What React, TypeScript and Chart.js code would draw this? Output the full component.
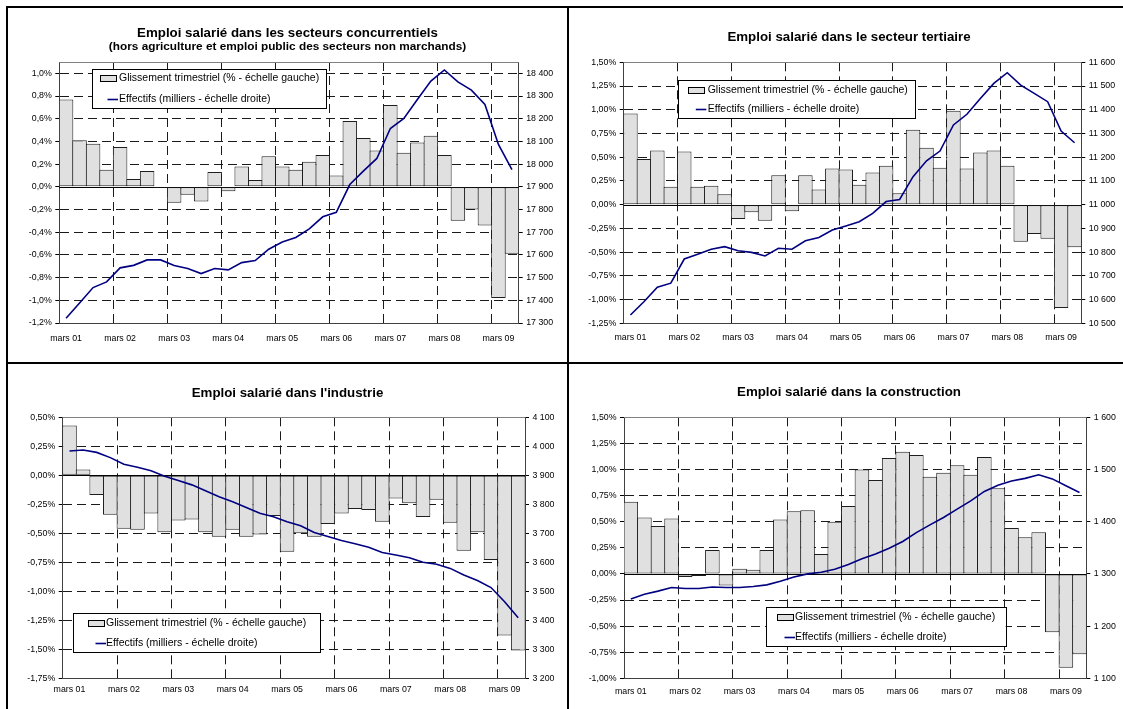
import React, { useEffect, useRef } from 'react';
import { Chart, registerables } from 'chart.js';

Chart.register(...registerables);

const FONT = "'Liberation Sans', Arial, Helvetica, sans-serif";
Chart.defaults.font.family = FONT;
Chart.defaults.color = '#000';

// ---------- DATA ----------
const categories = [
  'mars 01', 'juin 01', 'sept. 01', 'déc. 01',
  'mars 02', 'juin 02', 'sept. 02', 'déc. 02',
  'mars 03', 'juin 03', 'sept. 03', 'déc. 03',
  'mars 04', 'juin 04', 'sept. 04', 'déc. 04',
  'mars 05', 'juin 05', 'sept. 05', 'déc. 05',
  'mars 06', 'juin 06', 'sept. 06', 'déc. 06',
  'mars 07', 'juin 07', 'sept. 07', 'déc. 07',
  'mars 08', 'juin 08', 'sept. 08', 'déc. 08',
  'mars 09', 'juin 09',
];

const barLabel = 'Glissement trimestriel (% - échelle gauche)';
const lineLabel = 'Effectifs (milliers - échelle droite)';

// Secteurs concurrentiels
const concBars = [0.77, 0.41, 0.38, 0.15, 0.35, 0.07, 0.14, -0.01, -0.14, -0.07, -0.13, 0.13, -0.04, 0.18, 0.06, 0.27, 0.18, 0.15, 0.22, 0.28, 0.10, 0.58, 0.43, 0.32, 0.72, 0.30, 0.39, 0.45, 0.28, -0.30, -0.20, -0.34, -0.98, -0.59];
const concLine = [17321, 17388, 17456, 17481, 17543, 17554, 17578, 17578, 17553, 17540, 17518, 17540, 17534, 17566, 17575, 17625, 17657, 17677, 17715, 17768, 17788, 17910, 17969, 18025, 18157, 18201, 18285, 18366, 18415, 18362, 18326, 18263, 18087, 17976];
const concLeftTicks = [-1.2, -1.0, -0.8, -0.6, -0.4, -0.2, 0, 0.2, 0.4, 0.6, 0.8, 1.0];
const concRightTicks = [17300, 17400, 17500, 17600, 17700, 17800, 17900, 18000, 18100, 18200, 18300, 18400];

// Secteur tertiaire
const tertBars = [0.96, 0.48, 0.57, 0.19, 0.56, 0.19, 0.20, 0.11, -0.15, -0.08, -0.17, 0.31, -0.07, 0.31, 0.16, 0.38, 0.37, 0.21, 0.34, 0.41, 0.12, 0.79, 0.60, 0.39, 0.99, 0.38, 0.55, 0.57, 0.41, -0.39, -0.31, -0.36, -1.09, -0.45];
const tertLine = [10535, 10591, 10652, 10669, 10771, 10791, 10812, 10823, 10806, 10799, 10784, 10816, 10812, 10848, 10862, 10893, 10910, 10928, 10963, 11013, 11022, 11118, 11185, 11226, 11336, 11381, 11447, 11511, 11556, 11504, 11469, 11434, 11310, 11261];
const tertLeftTicks = [-1.25, -1.0, -0.75, -0.5, -0.25, 0, 0.25, 0.5, 0.75, 1.0, 1.25, 1.5];
const tertRightTicks = [10500, 10600, 10700, 10800, 10900, 11000, 11100, 11200, 11300, 11400, 11500, 11600];

// Industrie
const indBars = [0.43, 0.05, -0.17, -0.34, -0.46, -0.47, -0.33, -0.49, -0.39, -0.38, -0.49, -0.53, -0.47, -0.53, -0.51, -0.35, -0.66, -0.50, -0.53, -0.42, -0.33, -0.29, -0.30, -0.40, -0.20, -0.24, -0.36, -0.21, -0.41, -0.65, -0.49, -0.73, -1.38, -1.51];
const indLine = [3984, 3987, 3979, 3961, 3938, 3928, 3916, 3897, 3882, 3867, 3847, 3826, 3809, 3789, 3769, 3757, 3740, 3726, 3703, 3689, 3675, 3664, 3652, 3634, 3625, 3616, 3600, 3593, 3579, 3556, 3537, 3513, 3464, 3409];
const indLeftTicks = [-1.75, -1.5, -1.25, -1.0, -0.75, -0.5, -0.25, 0, 0.25, 0.5];
const indRightTicks = [3200, 3300, 3400, 3500, 3600, 3700, 3800, 3900, 4000, 4100];

// Construction
const consBars = [0.69, 0.54, 0.46, 0.53, -0.03, -0.02, 0.23, -0.11, 0.05, 0.04, 0.23, 0.52, 0.60, 0.61, 0.19, 0.50, 0.65, 1.00, 0.90, 1.11, 1.17, 1.14, 0.93, 0.97, 1.04, 0.95, 1.12, 0.82, 0.44, 0.35, 0.40, -0.56, -0.90, -0.77];
const consLine = [1252, 1261, 1267, 1274, 1272, 1272, 1275, 1274, 1274, 1276, 1279, 1286, 1294, 1300, 1303, 1309, 1318, 1329, 1338, 1349, 1362, 1379, 1394, 1408, 1424, 1440, 1458, 1470, 1478, 1483, 1490, 1482, 1469, 1456];
const consLeftTicks = [-1.0, -0.75, -0.5, -0.25, 0, 0.25, 0.5, 0.75, 1.0, 1.25, 1.5];
const consRightTicks = [1100, 1200, 1300, 1400, 1500, 1600];

// ---------- STYLE ----------
const BAR_FILL = '#e0e0e0';
const BAR_EDGE = '#1e1e1e';
const LINE_COLOR = '#000080';
const GRID = '#1a1a1a';
const AXIS = '#404040';
const TICK_SIZE = 8.8;

const fmtPct = (d: number) => (v: number) => v.toFixed(d).replace('.', ',') + '%';
const fmtThousands = (v: number) => String(Math.round(v)).replace(/\B(?=(\d{3})+(?!\d))/g, ' ');

const framePlugin = {
  id: 'frame',
  beforeDatasetsDraw(chart: any) {
    const { ctx, chartArea } = chart;
    const { left, right, top } = chartArea;
    ctx.save();
    ctx.strokeStyle = '#808080';
    ctx.lineWidth = 1;
    ctx.beginPath();
    const yt = Math.round(top) + 0.5;
    ctx.moveTo(left, yt);
    ctx.lineTo(right, yt);
    ctx.stroke();
    const y0 = Math.round(chart.scales.y.getPixelForValue(0)) + 0.5;
    ctx.strokeStyle = '#000';
    ctx.beginPath();
    ctx.moveTo(left, y0);
    ctx.lineTo(right, y0);
    ctx.stroke();
    ctx.restore();
  },
};

const boxLegendPlugin = {
  id: 'boxLegend',
  afterDraw(chart: any, _args: any, opts: any) {
    if (!opts || !opts.box) return;
    const { ctx } = chart;
    const { x, y, w, h, symX, textX, rows } = opts.box;
    const ds = chart.data.datasets;
    ctx.save();
    ctx.fillStyle = '#fff';
    ctx.fillRect(x, y, w, h);
    ctx.strokeStyle = '#000';
    ctx.lineWidth = 1;
    ctx.strokeRect(Math.round(x) + 0.5, Math.round(y) + 0.5, Math.round(w), Math.round(h));
    const barDs = ds.find((d: any) => d.type !== 'line');
    const lineDs = ds.find((d: any) => d.type === 'line');
    // bar key
    ctx.fillStyle = BAR_FILL;
    ctx.fillRect(Math.round(symX) + 0.5, Math.round(rows[0] - 3) + 0.5, 16, 6);
    ctx.strokeStyle = '#000';
    ctx.strokeRect(Math.round(symX) + 0.5, Math.round(rows[0] - 3) + 0.5, 16, 6);
    // line key
    ctx.strokeStyle = LINE_COLOR;
    ctx.lineWidth = 1.6;
    ctx.beginPath();
    ctx.moveTo(symX + 7.5, Math.round(rows[1]) + 0.5);
    ctx.lineTo(symX + 18, Math.round(rows[1]) + 0.5);
    ctx.stroke();
    ctx.fillStyle = '#000';
    ctx.font = `10.5px ${FONT}`;
    ctx.textBaseline = 'middle';
    ctx.textAlign = 'left';
    ctx.fillText(barDs.label, textX, rows[0]);
    ctx.fillText(lineDs.label, textX, rows[1]);
    ctx.restore();
  },
};

type PanelCfg = {
  title: string;
  subtitle?: string;
  bars: number[];
  line: number[];
  leftMin: number;
  leftMax: number;
  leftTicks: number[];
  leftDecimals: number;
  rightMin: number;
  rightMax: number;
  rightTicks: number[];
  canvas: { x: number; y: number; w: number; h: number };
  yLeftW: number;
  yRightW: number;
  xH: number;
  xPad: number;
  titlePad: { top: number; bottom: number };
  subPad?: { top: number; bottom: number };
  legend: { x: number; y: number; w: number; h: number; symX: number; textX: number; rows: number[] };
};

const panels: PanelCfg[] = [
  {
    title: 'Emploi salarié dans les secteurs concurrentiels',
    subtitle: '(hors agriculture et emploi public des secteurs non marchands)',
    bars: concBars, line: concLine,
    leftMin: -1.2, leftMax: 1.1, leftTicks: concLeftTicks, leftDecimals: 1,
    rightMin: 17300, rightMax: 18450, rightTicks: concRightTicks,
    canvas: { x: 8, y: 8, w: 559, h: 354 },
    yLeftW: 51.3, yRightW: 48.3, xH: 39, xPad: 10,
    titlePad: { top: 18.65, bottom: 0 }, subPad: { top: 0.85, bottom: 9.4 },
    legend: { x: 84.3, y: 61.3, w: 234.4, h: 39, symX: 92, textX: 111, rows: [69.7, 91] },
  },
  {
    title: 'Emploi salarié dans le secteur tertiaire',
    bars: tertBars, line: tertLine,
    leftMin: -1.25, leftMax: 1.5, leftTicks: tertLeftTicks, leftDecimals: 2,
    rightMin: 10500, rightMax: 11600, rightTicks: tertRightTicks,
    canvas: { x: 569, y: 8, w: 560, h: 354 },
    yLeftW: 54.7, yRightW: 47.7, xH: 38.7, xPad: 9.1,
    titlePad: { top: 22.65, bottom: 18.35 },
    legend: { x: 109.3, y: 72, w: 237, h: 38.3, symX: 119.3, textX: 138.7, rows: [82, 101] },
  },
  {
    title: "Emploi salarié dans l'industrie",
    bars: indBars, line: indLine,
    leftMin: -1.75, leftMax: 0.5, leftTicks: indLeftTicks, leftDecimals: 2,
    rightMin: 3200, rightMax: 4100, rightTicks: indRightTicks,
    canvas: { x: 8, y: 364, w: 559, h: 345 },
    yLeftW: 54.7, yRightW: 42, xH: 30.7, xPad: 6.4,
    titlePad: { top: 22.65, bottom: 17.35 },
    legend: { x: 64.7, y: 249.3, w: 247.3, h: 39.4, symX: 80, textX: 98, rows: [259.3, 279.3] },
  },
  {
    title: 'Emploi salarié dans la construction',
    bars: consBars, line: consLine,
    leftMin: -1.0, leftMax: 1.5, leftTicks: consLeftTicks, leftDecimals: 2,
    rightMin: 1100, rightMax: 1600, rightTicks: consRightTicks,
    canvas: { x: 569, y: 364, w: 560, h: 345 },
    yLeftW: 55, yRightW: 42.7, xH: 30.7, xPad: 8.1,
    titlePad: { top: 21.65, bottom: 18.35 },
    legend: { x: 197, y: 243.3, w: 239.7, h: 39.4, symX: 208, textX: 226, rows: [252.7, 273] },
  },
];

function buildConfig(p: PanelCfg): any {
  const tickFont = { family: FONT, size: TICK_SIZE };
  const plugins: any = {
    legend: { display: false },
    tooltip: { enabled: false },
    title: {
      display: true,
      text: p.title,
      color: '#000',
      font: { family: FONT, size: 13.3, weight: 'bold', lineHeight: 1 },
      padding: p.titlePad,
    },
    boxLegend: { box: p.legend },
  };
  if (p.subtitle) {
    plugins.subtitle = {
      display: true,
      text: p.subtitle,
      color: '#000',
      font: { family: FONT, size: 11.8, weight: 'bold', lineHeight: 1 },
      padding: p.subPad,
    };
  }
  return {
    type: 'bar',
    data: {
      labels: categories,
      datasets: [
        {
          type: 'line',
          label: lineLabel,
          data: p.line,
          yAxisID: 'y1',
          borderColor: LINE_COLOR,
          backgroundColor: LINE_COLOR,
          borderWidth: 1.6,
          pointRadius: 0,
          tension: 0,
          order: 0,
        },
        {
          type: 'bar',
          label: barLabel,
          data: p.bars,
          yAxisID: 'y',
          backgroundColor: BAR_FILL,
          borderColor: BAR_EDGE,
          borderWidth: 1,
          borderSkipped: false,
          barPercentage: 1.074,
          categoryPercentage: 1,
          order: 1,
        },
      ],
    },
    options: {
      responsive: false,
      animation: false,
      events: [],
      layout: { padding: 0 },
      plugins,
      scales: {
        x: {
          type: 'category',
          offset: true,
          grid: {
            offset: true,
            drawTicks: false,
            lineWidth: 1,
            color: (c: any) =>
              c.type === 'tick' && c.index > 0 && c.index % 4 === 0 ? GRID : 'rgba(0,0,0,0)',
          },
          border: { display: true, color: AXIS, width: 1, dash: [9, 5] },
          ticks: {
            autoSkip: false,
            maxRotation: 0,
            minRotation: 0,
            padding: p.xPad,
            font: tickFont,
            color: '#000',
            callback: (_v: any, i: number) => (i % 4 === 0 ? categories[i] : ''),
          },
          afterFit: (s: any) => {
            s.height = p.xH;
          },
        },
        y: {
          type: 'linear',
          position: 'left',
          min: p.leftMin,
          max: p.leftMax,
          afterBuildTicks: (s: any) => {
            s.ticks = p.leftTicks.map((v) => ({ value: v }));
          },
          grid: {
            drawTicks: true,
            tickLength: 4,
            tickColor: '#000',
            tickWidth: 1,
            lineWidth: 1,
            color: (c: any) => (c.tick && Math.abs(c.tick.value) < 1e-9 ? 'rgba(0,0,0,0)' : GRID),
          },
          border: { display: true, color: AXIS, width: 1, dash: [9, 5] },
          ticks: {
            padding: 3.5,
            font: tickFont,
            color: '#000',
            callback: (v: any) => fmtPct(p.leftDecimals)(Number(v)),
          },
          afterFit: (s: any) => {
            s.width = p.yLeftW;
          },
        },
        y1: {
          type: 'linear',
          position: 'right',
          min: p.rightMin,
          max: p.rightMax,
          afterBuildTicks: (s: any) => {
            s.ticks = p.rightTicks.map((v) => ({ value: v }));
          },
          grid: {
            drawOnChartArea: false,
            drawTicks: true,
            tickLength: 4,
            tickColor: '#000',
            tickWidth: 1,
          },
          border: { display: true, color: AXIS, width: 1 },
          ticks: {
            padding: 3.5,
            font: tickFont,
            color: '#000',
            callback: (v: any) => fmtThousands(Number(v)),
          },
          afterFit: (s: any) => {
            s.width = p.yRightW;
          },
        },
      },
    },
    plugins: [framePlugin, boxLegendPlugin],
  };
}

function Panel({ p }: { p: PanelCfg }) {
  const ref = useRef<HTMLCanvasElement>(null);
  useEffect(() => {
    const chart = new Chart(ref.current as HTMLCanvasElement, buildConfig(p));
    return () => chart.destroy();
  }, [p]);
  return (
    <canvas
      ref={ref}
      width={p.canvas.w}
      height={p.canvas.h}
      style={{
        position: 'absolute',
        left: p.canvas.x,
        top: p.canvas.y,
        width: p.canvas.w,
        height: p.canvas.h,
      }}
    />
  );
}

const rule = (l: number, t: number, w: number, h: number) => (
  <div style={{ position: 'absolute', left: l, top: t, width: w, height: h, background: '#000' }} />
);

export default function App() {
  return (
    <div
      style={{
        position: 'fixed',
        left: 0,
        top: 0,
        width: 1123,
        height: 709,
        overflow: 'hidden',
        background: '#fff',
      }}
    >
      {panels.map((p, i) => (
        <Panel key={i} p={p} />
      ))}
      {rule(6, 6, 1130, 2)}
      {rule(6, 6, 2, 720)}
      {rule(567, 6, 2, 720)}
      {rule(6, 362, 1130, 2)}
    </div>
  );
}
